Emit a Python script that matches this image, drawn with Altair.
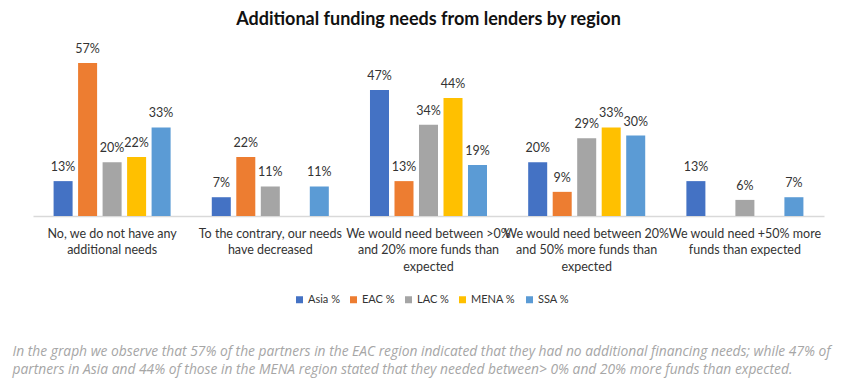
import altair as alt
import pandas as pd

categories = [
    "No, we do not have any\nadditional needs",
    "To the contrary, our needs\nhave decreased",
    "We would need between >0%\nand 20% more funds than\nexpected",
    "We would need between 20%\nand 50% more funds than\nexpected",
    "We would need +50% more\nfunds than expected",
]
regions = ["Asia %", "EAC %", "LAC %", "MENA %", "SSA %"]
colors = ["#4472C4", "#ED7D31", "#A5A5A5", "#FFC000", "#5B9BD5"]

asia = [0.13, 0.07, 0.47, 0.20, 0.13]
eac = [0.57, 0.22, 0.13, 0.09, 0.0]
lac = [0.20, 0.11, 0.34, 0.29, 0.06]
mena = [0.22, 0.0, 0.44, 0.33, 0.0]
ssa = [0.33, 0.11, 0.19, 0.30, 0.07]

caption = [
    "In the graph we observe that 57% of the partners in the EAC region indicated that they had no additional financing needs; while 47% of",
    "partners in Asia and 44% of those in the MENA region stated that they needed between> 0% and 20% more funds than expected.",
]

rows = []
for series, name in zip([asia, eac, lac, mena, ssa], regions):
    for cat, v in zip(categories, series):
        if v > 0:
            rows.append({"category": cat, "region": name, "value": v})
df = pd.DataFrame(rows)

FONT = "Lato"

x = alt.X(
    "category:N",
    sort=categories,
    scale=alt.Scale(paddingInner=0, paddingOuter=0),
    axis=alt.Axis(
        title=caption,
        labelAngle=0,
        labelExpr="split(datum.label, '\\n')",
        labelFontSize=12.5,
        labelLineHeight=16.5,
        labelColor="#333333",
        labelFont=FONT,
        labelPadding=11,
        labelBaseline="top",
        ticks=False,
        domainColor="#d9d9d9",
        domainWidth=1.5,
        titleFont="Open Sans",
        titleFontSize=13.8,
        titleFontStyle="italic",
        titleFontWeight="normal",
        titleColor="#a6a6a6",
        titleAnchor="start",
        titleAlign="left",
        titleBaseline="top",
        titleX=-21,
        titleY=128,
        titleLineHeight=18,
    ),
)
xo = alt.XOffset(
    "region:N",
    sort=regions,
    scale=alt.Scale(paddingInner=0.224, paddingOuter=0.84),
)
y = alt.Y(
    "value:Q",
    scale=alt.Scale(domain=[0, 0.6], nice=False),
    axis=None,
)

bars = alt.Chart(df).mark_bar().encode(
    x=x,
    xOffset=xo,
    y=y,
    color=alt.Color(
        "region:N",
        sort=regions,
        scale=alt.Scale(domain=regions, range=colors),
        legend=alt.Legend(
            title=None,
            orient="none",
            direction="horizontal",
            legendX=261,
            legendY=239,
            symbolType="square",
            symbolSize=49,
            symbolStrokeWidth=0,
            labelFont=FONT,
            labelFontSize=11,
            labelColor="#333333",
            columnPadding=8,
            symbolOffset=0,
            labelOffset=3,
        ),
    ),
)

labels = alt.Chart(df).mark_text(
    baseline="alphabetic", dy=-10, font=FONT, fontSize=12.5, color="#333333"
).encode(
    x=x,
    xOffset=xo,
    y=y,
    text=alt.Text("value:Q", format=".0%"),
)

chart = (
    alt.layer(bars, labels)
    .properties(
        width=791,
        height=161,
        autosize=alt.AutoSizeParams(type="none"),
        padding={"left": 25, "top": 47, "right": 18, "bottom": 167},
        title=alt.TitleParams(
            "Additional funding needs from lenders by region",
            font=FONT,
            fontSize=18,
            fontWeight="bold",
            color="#111111",
            anchor="middle",
            offset=14,
        ),
        background="white",
    )
    .configure_view(stroke=None)
)

chart.save("out.html", embed_options={"renderer": "svg", "actions": False})
